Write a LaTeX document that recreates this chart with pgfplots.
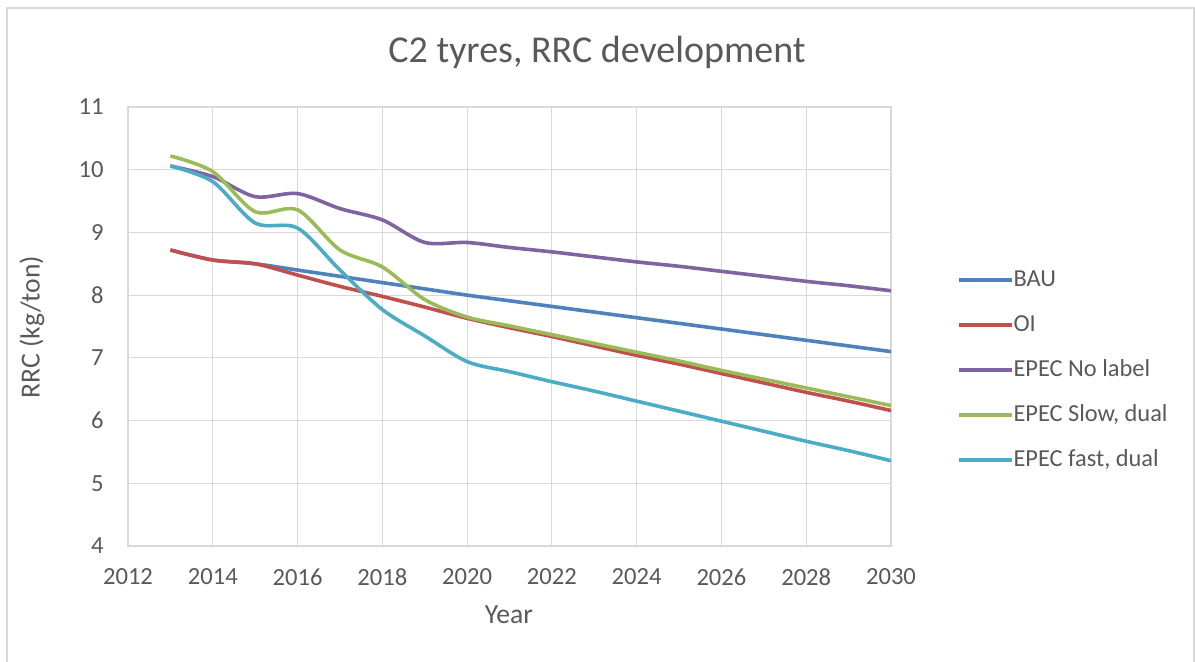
\documentclass[border=0pt]{standalone}
\usepackage{fontspec}
\setmainfont{Carlito}
\usepackage{pgfplots}
\pgfplotsset{compat=1.18}
\definecolor{cBAU}{HTML}{4F81BD}
\definecolor{cOI}{HTML}{C0504D}
\definecolor{cNL}{HTML}{8064A2}
\definecolor{cSlow}{HTML}{9BBB59}
\definecolor{cFast}{HTML}{4BACC6}
\definecolor{txt}{HTML}{595959}
\definecolor{gridc}{HTML}{D9D9D9}
\newcommand{\fs}{\fontsize{12.3pt}{14.5pt}\selectfont}
\newcommand{\fg}{\fontsize{12.2pt}{14.5pt}\selectfont}
\newcommand{\fl}{\fontsize{13.8pt}{16pt}\selectfont}
\begin{document}
\begin{tikzpicture}
\begin{scope}[x=0.5pt,y=-0.5pt]
\path[use as bounding box] (0,0) rectangle (1195,662);
\draw[gridc, line width=0.8pt] (7,8) rectangle (1194,668);
\node[txt, font=\fontsize{19pt}{22pt}\selectfont] at (597,52) {C2 tyres, RRC development};
\node[txt, font=\fl] at (509,615) {Year};
\node[txt, font=\fl, rotate=90] at (32,327) {RRC (kg/ton)};
\end{scope}
\begin{axis}[
  at={(64pt,-273pt)}, anchor=south west,
  scale only axis, width=381.5pt, height=219.5pt,
  xmin=2012, xmax=2030, ymin=4, ymax=11,
  xtick={2012,2014,...,2030}, ytick={4,5,...,11},
  /pgf/number format/assume math mode=true,
  xticklabel={\pgfmathprintnumber[1000 sep={}]{\tick}},
  grid=major, major grid style={gridc, line width=0.6pt},
  axis line style={gridc, line width=0.8pt},
  major tick length=0pt,
  tick label style={txt, font=\fs},
  yticklabel style={inner sep=0pt, anchor=east, xshift=-12pt},
  xticklabel style={inner sep=0pt, anchor=north, yshift=-11pt},
  legend style={at={(1.078,0.401)}, anchor=west, draw=none, fill=none,
    font=\fg, text=txt,
    row sep=11.3pt, nodes={inner sep=0pt, text height=8.7pt, text depth=2.5pt, xshift=3pt}},
  legend cell align=left,
  legend image code/.code={\draw[#1] (0pt,0pt) -- (26.5pt,0pt);},
  every axis plot/.append style={line width=1.8pt, smooth, tension=0.5},
]
\addplot[cBAU] coordinates {(2013,8.72) (2014,8.56) (2015,8.50) (2016,8.40) (2017,8.30) (2018,8.20) (2019,8.10) (2020,8.00) (2021,7.91) (2022,7.82) (2023,7.73) (2024,7.64) (2025,7.55) (2026,7.46) (2027,7.37) (2028,7.28) (2029,7.19) (2030,7.10)};
\addlegendentry{BAU}
\addplot[cOI] coordinates {(2013,8.72) (2014,8.56) (2015,8.50) (2016,8.32) (2017,8.14) (2018,7.98) (2019,7.81) (2020,7.63) (2021,7.48) (2022,7.34) (2023,7.19) (2024,7.04) (2025,6.90) (2026,6.75) (2027,6.60) (2028,6.45) (2029,6.31) (2030,6.16)};
\addlegendentry{OI}
\addplot[cNL] coordinates {(2013,10.06) (2014,9.89) (2015,9.57) (2016,9.62) (2017,9.38) (2018,9.20) (2019,8.84) (2020,8.84) (2021,8.76) (2022,8.69) (2023,8.61) (2024,8.53) (2025,8.46) (2026,8.38) (2027,8.30) (2028,8.22) (2029,8.15) (2030,8.07)};
\addlegendentry{EPEC No label}
\addplot[cSlow] coordinates {(2013,10.22) (2014,9.97) (2015,9.33) (2016,9.36) (2017,8.72) (2018,8.45) (2019,7.93) (2020,7.65) (2021,7.51) (2022,7.37) (2023,7.23) (2024,7.09) (2025,6.95) (2026,6.80) (2027,6.66) (2028,6.52) (2029,6.38) (2030,6.24)};
\addlegendentry{EPEC Slow, dual}
\addplot[cFast] coordinates {(2013,10.06) (2014,9.81) (2015,9.15) (2016,9.07) (2017,8.40) (2018,7.77) (2019,7.35) (2020,6.94) (2021,6.78) (2022,6.62) (2023,6.47) (2024,6.31) (2025,6.15) (2026,5.99) (2027,5.83) (2028,5.67) (2029,5.52) (2030,5.36)};
\addlegendentry{EPEC fast, dual}
\end{axis}
\end{tikzpicture}
\end{document}
